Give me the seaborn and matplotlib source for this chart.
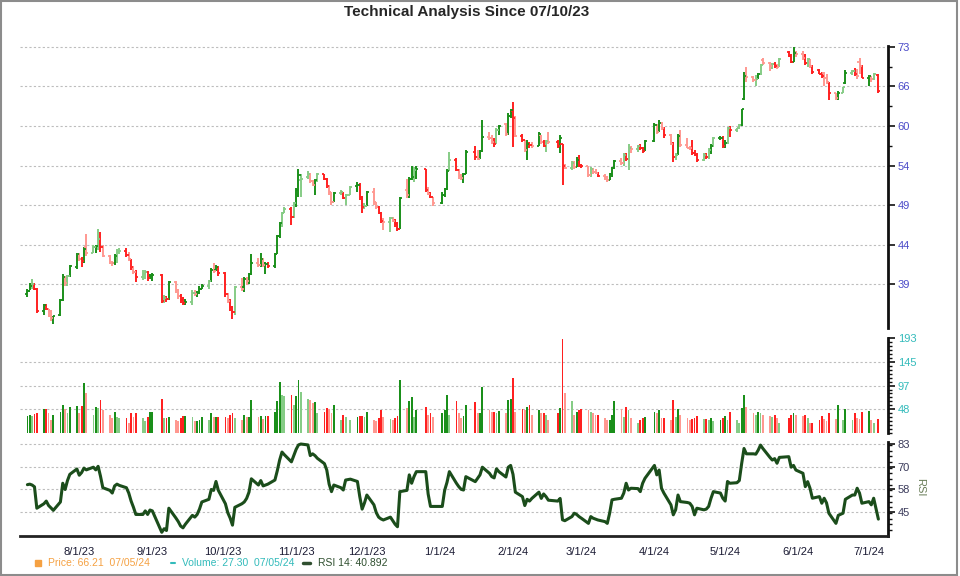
import numpy as np
import pandas as pd
import seaborn as sns
import matplotlib
matplotlib.use('Agg')
from matplotlib import pyplot as plt
import matplotlib.dates as mdates
import matplotlib.ticker as mticker
from matplotlib.lines import Line2D
from matplotlib.patches import Rectangle

# trading days 07/10/23 - 07/05/24 (one row per week)
holidays = ['2023-09-04', '2023-11-23', '2023-12-25', '2024-01-01', '2024-01-15',
            '2024-02-19', '2024-03-29', '2024-05-27', '2024-06-19', '2024-07-04']

opens = [
    38.5, 38.8, 39.3, 39.5, 39.0,  36.8, 37.4, 37.0, 36.8, 36.2,  36.5, 37.9, 40.3, 39.6, 40.4,
    41.3, 42.7, 42.2, 42.0, 43.5,  42.9, 43.5, 43.6, 44.4, 43.5,  42.5, 41.8, 41.7, 42.5, 43.0,
    43.1, 42.6, 42.2, 41.3, 40.8,  40.2, 40.6, 40.8, 40.1, 40.4,  40.5, 37.8, 38.1, 38.0,
    39.7, 38.9, 38.3, 37.9, 37.6,  37.7, 38.6, 38.5, 38.6, 39.0,  39.3, 39.8, 41.0, 41.0, 41.3,
    40.7, 38.5, 37.8, 37.2, 36.7,  39.2, 39.2, 40.0, 39.8, 40.6,  41.8, 41.5, 42.2, 41.5, 41.6,
    41.4, 42.7, 44.8, 46.3, 47.5,  48.0, 47.1, 48.8, 50.5, 51.8,  52.3, 52.6, 51.7, 51.2, 51.8,
    52.6, 52.0, 51.0, 50.2, 49.0,  50.1, 50.3, 49.5, 49.8,  51.0, 51.2, 49.6, 48.3, 48.5,
    50.2, 48.9, 48.3, 47.6, 46.6,  46.4, 46.9, 46.6, 46.2, 45.6,  50.5, 49.8, 52.0, 52.3, 53.2,
    53.4, 50.5, 50.0, 49.6,  48.8, 49.9, 50.6, 53.0,  54.6, 53.2, 52.4, 52.1, 52.6,
    55.8, 55.0, 54.8, 55.9,  58.0, 57.8, 57.2, 57.0, 59.0,  60.0, 58.5, 61.2, 62.0, 61.0,
    58.2, 57.6, 56.0, 57.0, 56.8,  56.7, 58.3, 57.3, 56.7, 57.4,  57.3, 56.6, 57.0, 53.8,
    53.5, 54.2, 53.6, 54.6, 53.8,  53.7, 52.5, 53.3, 52.9, 52.8,  52.4, 52.2, 51.9, 52.6, 53.5,
    54.4, 54.2, 55.4, 54.7, 56.4,  56.2, 56.6, 56.3, 55.9,  57.4, 59.9, 58.8, 60.2, 59.3,
    58.3, 57.0, 55.0, 55.4, 58.2,  56.8, 56.4, 56.3, 55.6, 55.4,  54.6, 55.4, 55.0, 56.1, 56.6,
    57.8, 57.9, 56.7, 57.1, 59.3,  59.1, 59.3, 59.8, 64.0, 68.0,  67.8, 67.3, 67.5, 68.3, 70.9,
    70.4, 69.8, 70.2, 69.8, 69.6,  72.3, 71.6, 70.6, 72.2,  72.0, 71.2, 70.3, 71.0, 69.8,
    69.0, 68.4, 68.5, 67.6, 66.9,  65.0, 64.2, 65.1, 66.8,  68.6, 68.8, 68.3, 70.5, 69.8,
    67.7, 68.0, 67.4, 68.2,
]
highs = [
    39.0, 39.6, 40.0, 39.6, 39.1,  37.5, 37.5, 37.0, 36.9, 36.4,  38.0, 40.6, 40.4, 40.5, 41.5,
    42.9, 42.8, 42.4, 43.5, 45.0,  43.7, 43.8, 45.6, 45.3, 43.7,  42.6, 42.0, 42.7, 43.3, 43.4,
    43.4, 43.0, 42.2, 41.4, 41.0,  41.0, 41.0, 40.9, 40.6, 40.7,  40.6, 38.4, 38.3, 39.8,
    39.8, 39.0, 38.5, 38.2, 38.0,  38.9, 38.9, 38.8, 39.3, 39.5,  39.9, 41.2, 41.7, 41.5, 41.4,
    40.8, 38.6, 38.0, 37.3, 39.3,  40.1, 40.3, 40.2, 40.7, 42.7,  42.3, 42.8, 42.3, 41.9, 41.9,
    42.8, 44.9, 46.5, 47.7, 48.3,  48.3, 49.0, 50.7, 53.3, 52.6,  53.0, 52.8, 51.9, 52.0, 52.8,
    52.6, 52.1, 51.2, 50.3, 50.3,  50.5, 50.3, 50.0, 51.0,  51.6, 51.4, 49.7, 48.8, 50.4,
    50.8, 49.0, 48.5, 47.7, 46.9,  47.1, 47.1, 46.8, 46.5, 49.6,  52.0, 52.2, 53.8, 53.6, 53.8,
    53.4, 50.9, 50.2, 49.6,  50.2, 50.8, 53.3, 55.8,  54.9, 53.4, 52.7, 52.8, 56.1,
    56.7, 56.1, 56.1, 60.6,  58.8, 58.3, 57.8, 59.4, 59.9,  60.1, 61.7, 62.4, 63.5, 61.2,
    58.5, 57.6, 57.5, 57.3, 57.3,  58.8, 58.3, 57.5, 57.6, 58.8,  57.5, 58.3, 57.0, 54.0,
    54.4, 54.5, 55.0, 55.3, 54.0,  53.8, 53.6, 53.5, 53.3, 52.9,  52.6, 52.4, 52.8, 53.6, 54.6,
    54.9, 55.6, 55.6, 57.0, 56.7,  56.8, 57.0, 56.5, 57.5,  60.1, 60.0, 60.6, 60.3, 59.5,
    58.4, 57.2, 55.6, 58.5, 59.0,  57.8, 56.6, 57.5, 56.1, 55.6,  55.6, 55.6, 56.3, 56.9, 58.0,
    58.1, 58.2, 57.6, 59.5, 59.7,  59.4, 60.0, 62.4, 68.7, 69.6,  68.0, 68.2, 68.5, 70.1, 71.2,
    70.5, 70.4, 70.5, 70.1, 71.2,  72.5, 72.0, 73.4, 72.6,  72.6, 72.0, 71.3, 71.0, 70.0,
    69.2, 68.7, 68.7, 68.3, 67.0,  65.0, 65.3, 66.1, 69.1,  69.1, 69.5, 69.3, 71.3, 69.9,
    68.2, 68.0, 68.6, 68.3,
]
lows = [
    38.2, 38.9, 39.0, 38.9, 36.6,  36.5, 36.9, 36.3, 35.9, 35.6,  36.4, 37.8, 39.3, 39.3, 40.3,
    41.1, 42.0, 41.3, 41.8, 42.5,  42.8, 42.9, 43.2, 43.0, 42.4,  41.6, 41.4, 41.5, 41.8, 42.7,
    42.4, 42.0, 41.0, 40.6, 39.7,  39.9, 40.0, 39.8, 40.0, 39.8,  37.6, 37.6, 37.7, 37.9,
    38.6, 38.0, 37.6, 37.4, 37.4,  37.4, 38.3, 38.2, 38.5, 39.0,  39.0, 39.7, 40.7, 40.9, 40.4,
    38.2, 37.6, 36.8, 36.1, 36.5,  38.8, 38.7, 39.4, 39.5, 40.5,  41.3, 41.3, 41.3, 40.6, 41.2,
    41.2, 42.7, 44.6, 45.9, 47.5,  46.1, 47.0, 48.3, 49.6, 49.6,  52.0, 51.4, 51.0, 49.8, 51.6,
    51.8, 50.8, 49.9, 48.6, 48.9,  49.9, 49.3, 48.6, 49.8,  50.2, 49.2, 47.5, 48.0, 48.4,
    48.6, 48.0, 47.4, 46.3, 45.5,  45.3, 46.5, 45.9, 45.4, 45.6,  49.4, 49.4, 51.9, 51.5, 52.0,
    50.3, 49.8, 49.5, 48.5,  48.7, 49.6, 50.5, 53.0,  53.0, 52.0, 51.8, 51.4, 52.6,
    54.6, 54.6, 54.8, 55.7,  57.5, 57.0, 56.5, 56.9, 58.3,  58.2, 58.3, 61.0, 56.5, 58.0,
    57.3, 55.8, 54.6, 56.4, 56.4,  56.6, 57.0, 56.5, 55.8, 57.0,  56.3, 55.6, 51.2, 53.4,
    53.2, 53.4, 53.6, 53.6, 53.5,  52.3, 52.3, 52.7, 52.6, 52.2,  51.9, 51.6, 51.9, 52.3, 53.3,
    53.9, 53.8, 54.5, 53.2, 55.6,  55.8, 56.0, 55.6, 55.9,  57.3, 58.5, 58.8, 59.0, 57.9,
    56.8, 54.3, 54.6, 55.3, 56.5,  56.3, 56.0, 55.3, 55.2, 54.3,  54.5, 54.8, 54.8, 55.5, 56.5,
    57.5, 56.4, 56.3, 57.0, 58.0,  58.8, 59.2, 59.7, 63.8, 67.0,  67.0, 66.3, 67.4, 68.1, 69.9,
    68.8, 69.2, 69.5, 69.3, 69.6,  71.4, 70.3, 70.5, 71.5,  70.9, 70.0, 69.6, 69.5, 68.4,
    68.3, 67.6, 66.3, 66.6, 63.9,  63.9, 63.9, 65.0, 66.6,  68.2, 68.0, 67.5, 68.3, 67.6,
    66.2, 67.0, 67.3, 65.0,
]
closes = [
    38.8, 39.3, 39.5, 39.0, 36.8,  37.4, 37.0, 36.8, 36.2, 36.4,  37.9, 40.3, 39.6, 40.4, 41.4,
    42.7, 42.2, 42.0, 43.3, 42.9,  43.5, 43.6, 44.4, 43.5, 42.5,  41.8, 41.7, 42.5, 43.0, 43.1,
    42.6, 42.2, 41.3, 40.8, 40.2,  40.6, 40.8, 40.1, 40.4, 40.5,  37.8, 38.1, 38.0, 39.7,
    38.9, 38.3, 37.9, 37.6, 37.7,  38.6, 38.5, 38.6, 39.0, 39.3,  39.8, 41.0, 40.9, 41.3, 40.7,
    38.5, 37.8, 37.2, 36.7, 39.2,  39.0, 40.0, 39.8, 40.6, 41.8,  41.5, 42.2, 41.5, 41.6, 41.4,
    42.7, 44.8, 46.3, 47.5, 48.0,  47.1, 48.8, 50.5, 52.5, 52.0,  52.6, 51.7, 51.2, 51.8, 52.6,
    52.0, 51.0, 50.2, 49.0, 50.1,  50.3, 49.5, 49.8, 50.9,  51.2, 49.6, 48.3, 48.5, 50.2,
    48.9, 48.3, 47.6, 46.6, 46.4,  46.9, 46.6, 46.2, 45.6, 49.4,  49.8, 52.0, 52.3, 53.2, 53.4,
    50.5, 50.0, 49.6, 48.8,  49.9, 50.6, 53.0, 54.6,  53.2, 52.4, 52.1, 52.6, 55.8,
    55.0, 54.8, 55.9, 58.0,  57.8, 57.2, 57.0, 59.0, 59.6,  58.5, 61.2, 62.2, 61.0, 58.2,
    57.6, 56.0, 57.0, 56.8, 56.7,  58.5, 57.3, 56.7, 57.4, 57.3,  56.6, 57.8, 53.8, 53.5,
    54.2, 53.6, 54.6, 53.8, 53.7,  52.5, 53.3, 52.9, 52.8, 52.4,  52.2, 51.9, 52.6, 53.5, 54.4,
    54.2, 55.4, 54.7, 56.4, 56.2,  56.6, 56.3, 55.9, 57.4,  59.9, 58.8, 60.2, 59.3, 58.3,
    57.0, 55.0, 55.4, 58.2, 56.8,  56.4, 56.3, 55.6, 55.4, 54.6,  55.4, 55.0, 56.1, 56.6, 57.8,
    57.9, 56.7, 57.1, 59.3, 59.1,  59.3, 59.8, 62.3, 68.0, 67.8,  67.3, 67.5, 68.3, 70.0, 70.4,
    69.8, 70.2, 69.8, 69.6, 71.0,  71.6, 70.6, 72.2, 72.0,  71.2, 70.3, 71.0, 69.8, 68.7,
    68.4, 67.9, 67.6, 66.9, 65.0,  64.2, 65.1, 66.0, 68.6,  68.8, 68.3, 68.0, 69.8, 67.7,
    68.0, 67.4, 68.4, 65.3,
]
volume = [
    35, 36, 35, 38, 40,  48, 48, 40, 26, 36,  43, 57, 48, 40, 53,  55, 40, 55, 101, 81,
    36, 53, 50, 68, 47,  36, 30, 43, 33, 31,  31, 19, 40, 33, 40,  31, 23, 33, 43, 43,
    70, 31, 31, 33,  27, 23, 31, 35, 35,  33, 24, 24, 26, 33,  26, 40, 33, 33, 33,
    33, 31, 36, 40, 31,  26, 36, 33, 33, 68,  33, 35, 28, 35, 35,  43, 64, 103, 77, 75,
    77, 57, 75, 108, 84,  70, 67, 60, 62, 40,  43, 50, 48, 40, 57,  26, 36, 33, 26,
    33, 35, 35, 33, 43,  26, 23, 31, 47, 33,  28, 26, 31, 35, 108,  50, 64, 74, 33, 47,
    53, 36, 40, 33,  40, 47, 77, 36,  64, 40, 30, 35, 57,  62, 40, 40, 94,
    47, 43, 43, 40, 45,  40, 68, 70, 113, 43,  48, 47, 53, 57, 36,  47, 40, 40, 36, 26,
    40, 50, 193, 81,  64, 36, 43, 47, 48,  47, 43, 40, 36, 36,  31, 26, 26, 36, 66,
    48, 33, 53, 47, 31,  20, 26, 31, 33,  43, 40, 47, 31, 31,  26, 68, 33, 48, 36,
    31, 26, 28, 31, 35,  28, 28, 26, 31, 23,  26, 31, 35, 26, 43,  26, 19, 50, 77, 53,
    40, 36, 43, 40, 36,  35, 33, 36, 31, 20,  31, 36, 41, 36,  35, 36, 31, 20, 20,
    26, 35, 28, 23, 40,  28, 57, 26, 48,  26, 40, 31, 28, 43,  45, 26, 19, 27.3,
]
rsi = [
    60.2, 60.5, 60.0, 59.0, 47.0,  49.5, 51.0, 48.5, 47.2, 45.8,  50.5, 61.0, 57.5, 62.5, 66.0,
    69.0, 65.5, 67.0, 69.5, 68.5,  70.0, 68.5, 70.5, 65.0, 58.5,  57.0, 55.5, 59.5, 60.5, 59.8,
    58.5, 55.5, 51.0, 47.5, 43.5,  43.5, 45.5, 43.5, 46.0, 45.5,  33.5, 35.5, 34.5, 47.0,
    41.5, 39.5, 37.0, 36.0, 38.0,  43.0, 42.0, 43.5, 46.5, 50.5,  52.0, 57.5, 57.0, 62.0, 57.0,
    49.5, 44.5, 41.5, 37.5, 47.5,  49.5, 50.5, 52.5, 56.0, 63.5,  60.0, 62.5, 59.5, 60.0, 60.5,
    62.8, 68.0, 74.0, 78.5, 77.0,  73.0, 76.5, 80.0, 82.5, 83.0,  82.5, 76.5, 77.5, 76.5, 75.0,
    72.0, 68.4, 60.5, 56.3, 60.0,  58.5, 57.2, 62.8, 63.3,  62.0, 53.5, 46.5, 50.0, 54.4,
    48.9, 44.5, 42.0, 41.0, 40.4,  42.0, 40.0, 38.0, 36.6, 56.3,  57.0, 65.7, 61.0, 64.7, 67.5,
    67.5, 55.0, 48.0, 48.0,  48.0, 57.0, 61.5, 67.5,  61.0, 59.1, 57.6, 57.2, 64.7,
    61.9, 63.8, 65.7, 70.0,  66.6, 64.7, 64.0, 69.1, 67.5,  64.5, 70.0, 71.0, 66.0, 56.0,
    53.5, 48.5, 52.0, 51.0, 52.5,  56.0, 52.5, 55.0, 53.5, 51.5,  51.0, 52.5, 40.5, 40.0,
    42.3, 44.2, 43.5, 42.3, 41.4,  38.5, 42.3, 41.4, 40.9, 40.4,  39.5, 38.5, 44.2, 51.7, 52.0,
    52.6, 55.5, 61.0, 57.2, 58.2,  58.0, 56.3, 61.0, 63.8,  71.0, 65.7, 68.4, 58.2, 55.5,
    48.9, 43.3, 46.1, 54.4, 50.7,  50.2, 49.8, 48.0, 43.3, 47.0,  46.1, 46.5, 48.0, 52.6, 56.3,
    55.5, 52.6, 51.0, 62.0, 61.0,  61.3, 62.5, 72.0, 80.5, 77.5,  77.5, 77.3, 79.5, 82.4, 80.5,
    75.5, 74.0, 74.8, 72.2, 75.5,  75.9, 70.0, 71.0, 68.4,  66.6, 59.1, 61.9, 58.2, 52.6,
    53.5, 49.8, 52.6, 50.0, 44.2,  38.5, 43.0, 44.2, 52.0,  54.4, 54.4, 58.2, 55.5, 49.8,
    50.7, 48.9, 52.6, 40.892,
]

month_labels = ['8/1/23', '9/1/23', '10/1/23', '11/1/23', '12/1/23', '1/1/24',
                '2/1/24', '3/1/24', '4/1/24', '5/1/24', '6/1/24', '7/1/24']
price_ticks = [39.49, 43.79, 48.55, 53.83, 59.69, 66.18, 73.38]
price_labels = ['39', '44', '49', '54', '60', '66', '73']
vol_ticks = [48.3, 96.6, 144.9, 193.2]
vol_labels = ['48', '97', '145', '193']
rsi_ticks = [45, 57.67, 70.33, 83]
rsi_labels = ['45', '58', '70', '83']

# dates
days = pd.bdate_range('2023-07-10', '2024-07-05')
days = days[~days.isin(pd.to_datetime(holidays))]
x = mdates.date2num(days.to_pydatetime())

o = np.array(opens); h = np.array(highs); l = np.array(lows); c = np.array(closes)
v = np.array(volume)
up = c >= o
prev_v = np.r_[v[0], v[:-1]]
strong = v >= prev_v
cols = np.where(up, np.where(strong, '#1a8f1a', '#86cc86'),
                np.where(strong, '#ff2020', '#ff9890'))

sns.set_style('white')
plt.rcParams['font.family'] = ['Liberation Sans', 'DejaVu Sans']

fig = plt.figure(figsize=(9.6, 5.76), dpi=100)
left, width = 20 / 960, 868 / 960
ax1 = fig.add_axes([left, 1 - 328.3 / 576, width, (328.3 - 46) / 576])
ax2 = fig.add_axes([left, 1 - 432.7 / 576, width, (432.7 - 338.3) / 576])
ax3 = fig.add_axes([left, 1 - 535.5 / 576, width, (535.5 - 441.7) / 576])

xmin = mdates.date2num(pd.Timestamp('2023-07-06 20:40'))
xmax = mdates.date2num(pd.Timestamp('2024-07-09 02:00'))

grid_kw = dict(color='#bdbdbd', lw=0.8, ls=(0, (2, 2)), zorder=0)

# price OHLC bars
ax1.set_yscale('log')
ax1.vlines(x, l, h, colors=cols, lw=1.4, zorder=3)
ax1.hlines(o, x - 0.9, x, colors=cols, lw=1.3, zorder=3)
ax1.hlines(c, x, x + 0.9, colors=cols, lw=1.3, zorder=3)
ax1.set_ylim(35.21, 73.52)
for t in price_ticks:
    ax1.axhline(t, **grid_kw)
ax1.yaxis.set_major_locator(mticker.FixedLocator(price_ticks))
ax1.yaxis.set_major_formatter(mticker.FixedFormatter(price_labels))
ax1.yaxis.set_minor_locator(mticker.FixedLocator([56.68, 62.85, 69.69]))
ax1.yaxis.set_minor_formatter(mticker.NullFormatter())

# volume bars
ax2.bar(x, v, width=0.75, color=cols, linewidth=0, zorder=3)
ax2.set_ylim(0, 193.5)
for t in vol_ticks[:-1]:
    ax2.axhline(t, **grid_kw)
ax2.yaxis.set_major_locator(mticker.FixedLocator(vol_ticks))
ax2.yaxis.set_major_formatter(mticker.FixedFormatter(vol_labels))
ax2.yaxis.set_minor_locator(mticker.MultipleLocator(193.2 / 24))

# RSI line
for t in rsi_ticks:
    ax3.axhline(t, **grid_kw)
sns.lineplot(x=x, y=rsi, ax=ax3, color='#1b4d1b', linewidth=2.2, sort=False, zorder=3)
ax3.set_ylim(31.7, 84.3)
ax3.yaxis.set_major_locator(mticker.FixedLocator(rsi_ticks))
ax3.yaxis.set_major_formatter(mticker.FixedFormatter(rsi_labels))
ax3.yaxis.set_minor_locator(mticker.MultipleLocator(12.67 / 4))

month_pos = mdates.date2num(pd.date_range('2023-08-01', '2024-07-01', freq='MS').to_pydatetime())
ax3.set_xticks(month_pos)
ax3.set_xticklabels(month_labels)

label_cols = ['#4a4ac8', '#33bbbb', '#3a3a5a']
for ax, lc in zip([ax1, ax2, ax3], label_cols):
    ax.set_xlim(xmin, xmax)
    ax.set_xlabel('')
    ax.set_ylabel('')
    ax.set_facecolor('none')
    ax.yaxis.tick_right()
    for s in ['left', 'top', 'bottom']:
        ax.spines[s].set_visible(False)
    ax.spines['right'].set_linewidth(2)
    ax.spines['right'].set_color('#111111')
    ax.tick_params(axis='y', which='major', direction='out', length=5, width=1.2,
                   colors='#111111', labelcolor=lc, labelsize=8, pad=2)
    ax.tick_params(axis='y', which='minor', direction='out', length=3, width=1,
                   colors='#111111')
    if ax is not ax3:
        ax.tick_params(axis='x', bottom=False, labelbottom=False)

ax3.spines['bottom'].set_visible(True)
ax3.spines['bottom'].set_linewidth(2)
ax3.spines['bottom'].set_color('#222222')
ax3.tick_params(axis='x', direction='out', length=5, width=1.2, colors='#222222',
                labelcolor='#1a1a33', labelsize=8, pad=3)

# texts
fig.text(0.4865, 0.972, 'Technical Analysis Since 07/10/23', ha='center', va='baseline',
         fontsize=11, weight='bold',
         family=['Liberation Sans Narrow', 'Liberation Sans', 'DejaVu Sans'])
fig.text(0.958, 0.155, 'RSI', rotation=270, ha='center', va='center', fontsize=8,
         color='#6b7f5a')

ly = 1 - 562.5 / 576
fig.add_artist(Line2D([37.5 / 960], [ly], marker='s', markersize=4, color='#f5a142',
                      transform=fig.transFigure))
fig.text(48 / 960, ly, 'Price: 66.21  07/05/24', color='#f5a142', fontsize=7.5, va='center')
fig.add_artist(Line2D([171 / 960, 175 / 960], [ly, ly], lw=1.5, color='#33bbbb',
                      transform=fig.transFigure))
fig.text(182 / 960, ly, 'Volume: 27.30  07/05/24', color='#33bbbb', fontsize=7.5, va='center')
fig.add_artist(Line2D([303 / 960, 310 / 960], [ly, ly], lw=2.5, color='#2f4f2f',
                      transform=fig.transFigure))
fig.text(318 / 960, ly, 'RSI 14: 40.892', color='#2f4f2f', fontsize=7.5, va='center')

fig.add_artist(Rectangle((0.001, 0.002), 0.996, 0.996, transform=fig.transFigure,
                         fill=False, ec='#8c8c8c', lw=1.5))

plt.savefig('out.png', dpi=100)
plt.close()
